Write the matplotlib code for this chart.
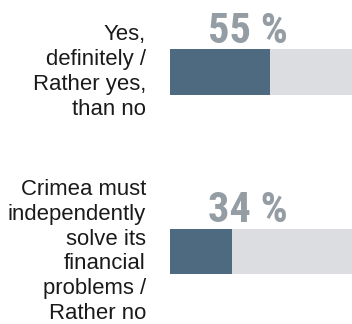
import matplotlib
matplotlib.use("Agg")
import matplotlib.pyplot as plt
from matplotlib.transforms import blended_transform_factory

categories = ["Yes,\ndefinitely /\nRather yes,\nthan no",
              "Crimea must\nindependently\nsolve its\nfinancial\nproblems /\nRather no"]
values = [55, 34]
total = 100

W, H = 352, 324
fig = plt.figure(figsize=(W / 100, H / 100), dpi=100)
ax = fig.add_axes([170 / W, 0, 182 / W, 1])
ax.set_xlim(0, total)
ax.set_ylim(1.404, -0.401)
ax.axis("off")

bh = 0.256
ys = list(range(len(values)))
ax.barh(ys, [total] * len(values), height=bh, color="#dcdde0", linewidth=0)
ax.barh(ys, values, height=bh, color="#4e6a80", linewidth=0)

tr = blended_transform_factory(fig.transFigure, ax.transData)
for y, cat, v in zip(ys, categories, values):
    ax.text(146 / W, y, cat, transform=tr, ha="right", va="center",
            fontsize=15.9, family="Liberation Sans", color="#1a1a1a",
            linespacing=1.23)
    ax.annotate(f"{v} %", xy=(0.645, y - bh / 2), xycoords=("axes fraction", "data"),
                xytext=(0, 4.5), textcoords="offset points",
                ha="right", va="baseline", fontsize=30.5, fontweight=900,
                family=["Roboto Condensed", "DejaVu Sans"],
                color="#959da4")

fig.savefig("out.png", dpi=100)
